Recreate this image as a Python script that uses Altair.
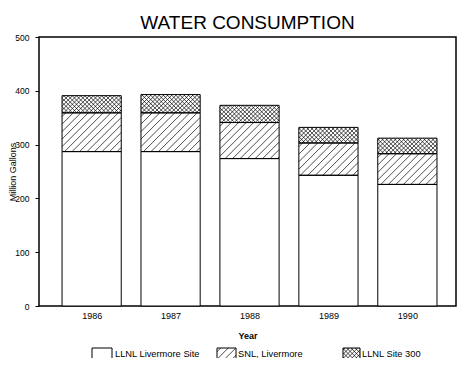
import altair as alt
import pandas as pd
import numpy as np

# ---- data ----
YEARS = [1986, 1987, 1988, 1989, 1990]
LLNL_LIVERMORE = [287, 287, 274, 243, 226]
SNL_LIVERMORE = [72, 72, 67, 60, 57]
LLNL_SITE300 = [32, 34, 32, 29, 29]
SERIES = ["LLNL Livermore Site", "SNL, Livermore", "LLNL Site 300"]
Y_TICKS = [0, 100, 200, 300, 400, 500]

# ---- layout ----
W, H = 417, 269
X_DOMAIN = [1985.333, 1990.616]
Y_DOMAIN = [0, 500]
HALF = 0.375
FONT = "Liberation Sans"
KX = W / (X_DOMAIN[1] - X_DOMAIN[0])
KY = H / (Y_DOMAIN[1] - Y_DOMAIN[0])


def hatch(x0, x1, y0, y1, sx, sy, s, direction):
    wp, hp = (x1 - x0) * sx, (y1 - y0) * sy
    segs = []
    if direction == "/":
        for c in np.arange(-hp + s / 2, wp, s):
            ua, ub = max(0.0, c), min(wp, hp + c)
            if ub - ua > 0.3:
                segs.append((ua, ua - c, ub, ub - c))
    else:
        for c in np.arange(s / 2, wp + hp, s):
            ua, ub = max(0.0, c - hp), min(wp, c)
            if ub - ua > 0.3:
                segs.append((ua, c - ua, ub, c - ub))
    return [dict(x=x0 + a / sx, y=y0 + b / sy, x2=x0 + c / sx, y2=y0 + d / sy)
            for a, b, c, d in segs]


# stacked segments
rows = []
for i, yr in enumerate(YEARS):
    base = 0
    for name, vals in zip(SERIES, [LLNL_LIVERMORE, SNL_LIVERMORE, LLNL_SITE300]):
        rows.append(dict(series=name, x=yr - HALF, x2=yr + HALF, y=base, y2=base + vals[i]))
        base += vals[i]
seg = pd.DataFrame(rows)

hatch_rows = []
for r in rows:
    if r["series"] == SERIES[1]:
        hatch_rows += hatch(r["x"], r["x2"], r["y"], r["y2"], KX, KY, 7.5, "/")
    elif r["series"] == SERIES[2]:
        hatch_rows += hatch(r["x"], r["x2"], r["y"], r["y2"], KX, KY, 4.2, "/")
        hatch_rows += hatch(r["x"], r["x2"], r["y"], r["y2"], KX, KY, 4.2, "\\")
hatch_df = pd.DataFrame(hatch_rows)

xs = alt.Scale(domain=X_DOMAIN, nice=False, zero=False)
ys = alt.Scale(domain=Y_DOMAIN, nice=False)

x_axis = alt.Axis(values=YEARS, format="d", grid=False, domain=False, ticks=False,
                  labelFont=FONT, labelFontSize=9, labelColor="black", labelPadding=5,
                  labelFlush=False, title="Year", titleFont=FONT, titleFontSize=9,
                  titleFontWeight="bold", titleColor="black", titlePadding=11)
y_axis = alt.Axis(values=Y_TICKS, grid=False, domain=False, tickSize=4, tickColor="black",
                  labelFont=FONT, labelFontSize=8.5, labelColor="black", labelPadding=6,
                  title="Million Gallons", titleFont=FONT, titleFontSize=9,
                  titleFontWeight="normal", titleColor="black", titleX=-22)

base = alt.Chart(seg)
fills = base.mark_rect(fill="white", stroke=None).encode(
    x=alt.X("x:Q", scale=xs, axis=x_axis), x2="x2", y=alt.Y("y:Q", scale=ys, axis=y_axis), y2="y2")
hatches = alt.Chart(hatch_df).mark_rule(color="black", strokeWidth=0.7).encode(
    x=alt.X("x:Q", scale=xs, axis=None), x2="x2", y=alt.Y("y:Q", scale=ys, axis=None), y2="y2")
outlines = base.mark_rect(fillOpacity=0, stroke="black", strokeWidth=1).encode(
    x=alt.X("x:Q", scale=xs, axis=None), x2="x2", y=alt.Y("y:Q", scale=ys, axis=None), y2="y2")

# ---- legend below the plot, in pixel units (x from plot left, y upward from plot bottom) ----
SW_X = [53, 178, 304]      # swatch left
SW_W = [20, 19, 17]
TX_X = [76, 199, 323]      # text left
SW_TOP, SW_BOT, TX_Y = -42, -53, -47.5
leg = pd.DataFrame(dict(series=SERIES, x=SW_X, x2=[a + b for a, b in zip(SW_X, SW_W)],
                        y=[SW_BOT] * 3, y2=[SW_TOP] * 3, tx=TX_X, ty=[TX_Y] * 3))
lh_rows = []
lh_rows += hatch(SW_X[1], SW_X[1] + SW_W[1], SW_BOT, SW_TOP, 1, 1, 7.5, "/")
lh_rows += hatch(SW_X[2], SW_X[2] + SW_W[2], SW_BOT, SW_TOP, 1, 1, 4.2, "/")
lh_rows += hatch(SW_X[2], SW_X[2] + SW_W[2], SW_BOT, SW_TOP, 1, 1, 4.2, "\\")
lh = pd.DataFrame(lh_rows)
lxs = alt.Scale(domain=[0, W], nice=False, zero=False)
lys = alt.Scale(domain=[0, H], nice=False, zero=False)
lbase = alt.Chart(leg)
l_rect = lbase.mark_rect(fill="white", stroke="black", strokeWidth=1).encode(
    x=alt.X("x:Q", scale=lxs, axis=None), x2="x2", y=alt.Y("y:Q", scale=lys, axis=None), y2="y2")
l_hatch = alt.Chart(lh).mark_rule(color="black", strokeWidth=0.7).encode(
    x=alt.X("x:Q", scale=lxs, axis=None), x2="x2", y=alt.Y("y:Q", scale=lys, axis=None), y2="y2")
l_text = lbase.mark_text(align="left", baseline="middle", font=FONT, fontSize=9.3, color="black").encode(
    x=alt.X("tx:Q", scale=lxs, axis=None), y=alt.Y("ty:Q", scale=lys, axis=None), text="series:N")

chart = alt.layer(fills, hatches, outlines, l_rect, l_hatch, l_text).resolve_scale(
    x="independent", y="independent"
).properties(
    width=W, height=H,
    title=alt.TitleParams("WATER CONSUMPTION", font=FONT, fontSize=19, fontWeight="normal",
                          color="black", anchor="middle", frame="group", offset=0),
    view=alt.ViewBackground(stroke="black", strokeWidth=1.5),
    autosize=alt.AutoSizeParams(type="none"),
    padding={"left": 31, "top": 29, "right": 3, "bottom": 52},
).configure(background="white")

chart.save("out.html", embed_options={"renderer": "svg", "actions": False})
